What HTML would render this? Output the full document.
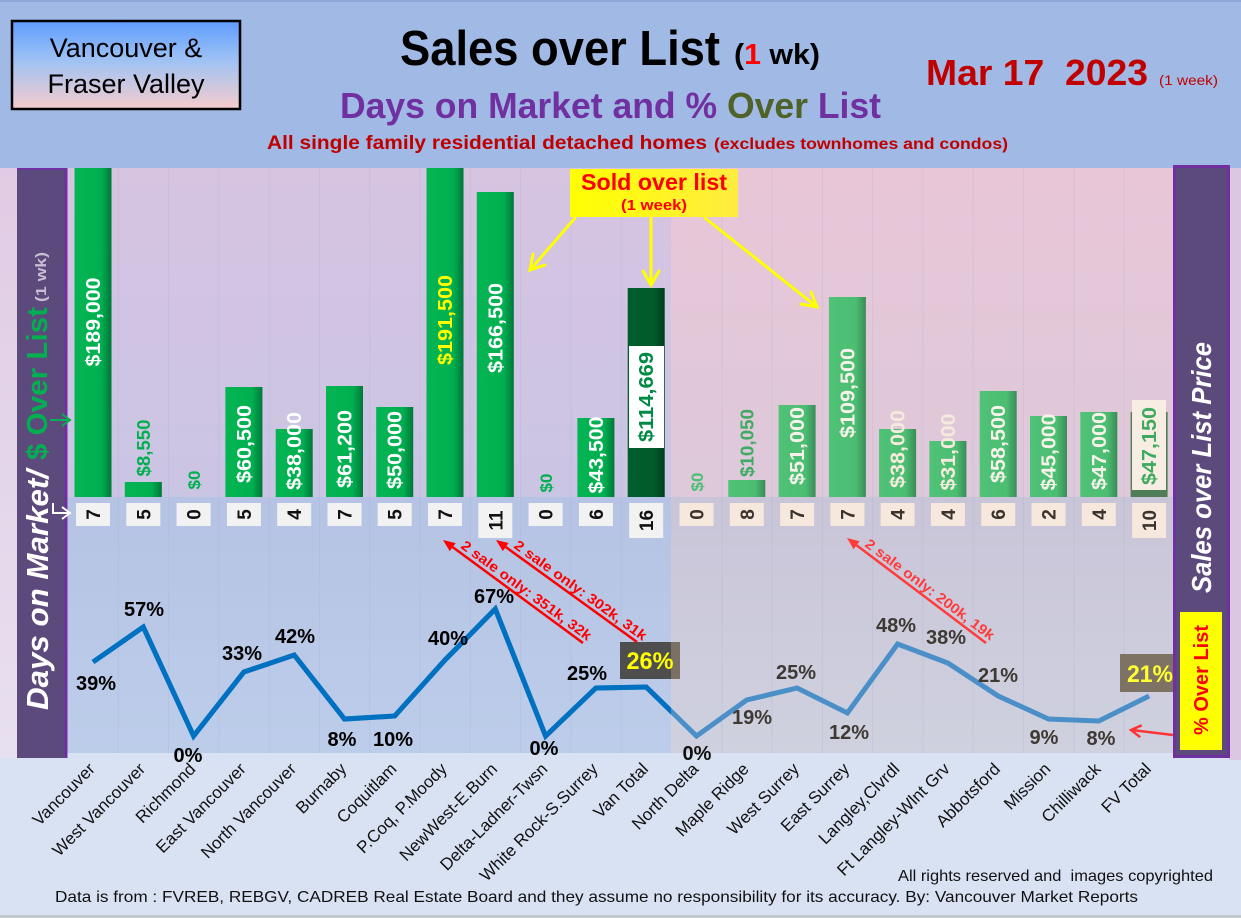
<!DOCTYPE html>
<html><head><meta charset="utf-8">
<style>
html,body{margin:0;padding:0;width:1241px;height:918px;overflow:hidden;background:#d9e2f3}
svg{display:block}
text{font-family:"Liberation Sans",Arial,sans-serif}
</style></head><body>
<svg width="1241" height="918" viewBox="0 0 1241 918" xmlns="http://www.w3.org/2000/svg">
<defs>
 <linearGradient id="boxg" x1="0" y1="0" x2="0" y2="1">
  <stop offset="0" stop-color="#5f9dff"/><stop offset="0.45" stop-color="#9fc2f4"/><stop offset="1" stop-color="#f7cccd"/>
 </linearGradient>
 <linearGradient id="strip" x1="0" y1="0" x2="0" y2="1">
  <stop offset="0" stop-color="#e1cbe4"/><stop offset="1" stop-color="#e7e0f0"/>
 </linearGradient>
 <linearGradient id="vtop" x1="0" y1="0" x2="0" y2="1">
  <stop offset="0" stop-color="#d6c4e1"/><stop offset="1" stop-color="#cac5e3"/>
 </linearGradient>
 <linearGradient id="ftop" x1="0" y1="0" x2="0" y2="1">
  <stop offset="0" stop-color="#e8c6d7"/><stop offset="1" stop-color="#ddc9da"/>
 </linearGradient>
 <linearGradient id="vbot" x1="0" y1="0" x2="0" y2="1">
  <stop offset="0" stop-color="#b6c3e4"/><stop offset="1" stop-color="#bccdea"/>
 </linearGradient>
 <linearGradient id="fbot" x1="0" y1="0" x2="0" y2="1">
  <stop offset="0" stop-color="#c9c5d8"/><stop offset="1" stop-color="#cfd1df"/>
 </linearGradient>
 <linearGradient id="gbar" x1="0" y1="0" x2="1" y2="0">
  <stop offset="0" stop-color="#05b452"/><stop offset="0.72" stop-color="#00b050"/><stop offset="1" stop-color="#00773a"/>
 </linearGradient>
 <linearGradient id="fbar" x1="0" y1="0" x2="1" y2="0">
  <stop offset="0" stop-color="#50c277"/><stop offset="0.72" stop-color="#4cbe72"/><stop offset="1" stop-color="#3a8c58"/>
 </linearGradient>
 <linearGradient id="dbar" x1="0" y1="0" x2="1" y2="0">
  <stop offset="0" stop-color="#005e2c"/><stop offset="0.72" stop-color="#005a2a"/><stop offset="1" stop-color="#003d1c"/>
 </linearGradient>
 <linearGradient id="yel" x1="0" y1="0" x2="1" y2="0">
  <stop offset="0" stop-color="#ffff00"/><stop offset="1" stop-color="#ffec40"/>
 </linearGradient>
 <clipPath id="vclip"><rect x="0" y="0" width="671" height="918"/></clipPath>
</defs>

<rect x="0" y="0" width="1241" height="918" fill="#d9e2f3"/>
<rect x="0" y="0" width="1241" height="168" fill="#a1b9e5"/>
<rect x="0" y="0" width="1241" height="2" fill="#8ea6d6"/>

<rect x="0" y="168" width="68" height="590" fill="url(#strip)"/>
<rect x="1229" y="168" width="12" height="592" fill="#dcc7e3"/>
<rect x="67" y="168" width="604" height="329" fill="url(#vtop)"/>
<rect x="671" y="168" width="503" height="329" fill="url(#ftop)"/>
<rect x="67" y="497" width="604" height="256" fill="url(#vbot)"/>
<rect x="671" y="497" width="503" height="256" fill="url(#fbot)"/>

<g stroke="#9aa6d0" stroke-opacity="0.2" stroke-width="1">
 <line x1="118.3" y1="168" x2="118.3" y2="753"/><line x1="168.6" y1="168" x2="168.6" y2="753"/>
 <line x1="218.9" y1="168" x2="218.9" y2="753"/><line x1="269.2" y1="168" x2="269.2" y2="753"/>
 <line x1="319.5" y1="168" x2="319.5" y2="753"/><line x1="369.7" y1="168" x2="369.7" y2="753"/>
 <line x1="420" y1="168" x2="420" y2="753"/><line x1="470.3" y1="168" x2="470.3" y2="753"/>
 <line x1="520.6" y1="168" x2="520.6" y2="753"/><line x1="570.9" y1="168" x2="570.9" y2="753"/>
 <line x1="621.2" y1="168" x2="621.2" y2="753"/><line x1="721.8" y1="168" x2="721.8" y2="753"/>
 <line x1="772.1" y1="168" x2="772.1" y2="753"/><line x1="822.4" y1="168" x2="822.4" y2="753"/>
 <line x1="872.6" y1="168" x2="872.6" y2="753"/><line x1="922.9" y1="168" x2="922.9" y2="753"/>
 <line x1="973.2" y1="168" x2="973.2" y2="753"/><line x1="1023.5" y1="168" x2="1023.5" y2="753"/>
 <line x1="1073.8" y1="168" x2="1073.8" y2="753"/><line x1="1124.1" y1="168" x2="1124.1" y2="753"/>
</g>

<rect x="12" y="21" width="228" height="88" fill="url(#boxg)" stroke="#000" stroke-width="2.5"/>
<text x="126" y="57" text-anchor="middle" font-size="27" fill="#000">Vancouver &amp;</text>
<text x="126" y="93" text-anchor="middle" font-size="27" fill="#000">Fraser Valley</text>

<text x="400" y="65" font-size="49" font-weight="bold" fill="#000" textLength="320" lengthAdjust="spacingAndGlyphs">Sales over List</text>
<text x="734" y="64" font-size="29" font-weight="bold" fill="#000" textLength="86" lengthAdjust="spacingAndGlyphs">(<tspan fill="#ff0000">1</tspan> wk)</text>
<text x="926" y="85" font-size="36" font-weight="bold" fill="#c00000" textLength="222" lengthAdjust="spacingAndGlyphs">Mar 17&#160; 2023</text>
<text x="1159" y="85" font-size="14" fill="#c00000" textLength="59" lengthAdjust="spacingAndGlyphs">(1 week)</text>
<text x="340" y="118" font-size="36" font-weight="bold" fill="#7030a0" textLength="541" lengthAdjust="spacingAndGlyphs">Days on Market and % <tspan fill="#4f6228">Over</tspan> List</text>
<text x="267" y="149" font-size="19" font-weight="bold" fill="#c00000" textLength="440" lengthAdjust="spacingAndGlyphs">All single family residential detached homes</text>
<text x="714" y="149" font-size="16" font-weight="bold" fill="#c00000" textLength="294" lengthAdjust="spacingAndGlyphs">(excludes townhomes and condos)</text>

<rect x="17" y="168" width="50" height="590" fill="#5d4a7d"/>
<rect x="64.5" y="168" width="3" height="590" fill="#7030a0"/>
<rect x="17" y="168" width="50" height="2" fill="#7030a0"/>
<text transform="translate(48,710) rotate(-90)" font-size="31" font-weight="bold" font-style="italic" fill="#ffffff" textLength="240" lengthAdjust="spacingAndGlyphs">Days on Market/</text>
<text transform="translate(47,460) rotate(-90)" font-size="29" font-weight="bold" fill="#00b050" textLength="153" lengthAdjust="spacingAndGlyphs">$ Over List</text>
<text transform="translate(46,302) rotate(-90)" font-size="15" font-weight="bold" fill="#c6bed3" textLength="50" lengthAdjust="spacingAndGlyphs">(1 wk)</text>
<g stroke="#00b050" stroke-width="2" fill="none"><line x1="50" y1="420" x2="70" y2="420"/><polyline points="62,414 70,420 62,426"/></g>
<g stroke="#ffffff" stroke-width="2" fill="none"><polyline points="53,503 53,513 70,513"/><polyline points="62,507 70,513 62,519"/></g>

<rect x="1174.5" y="166.5" width="54" height="590" fill="#5d4a7d" stroke="#7030a0" stroke-width="3"/>
<text transform="translate(1211,593) rotate(-90)" font-size="28" font-weight="bold" font-style="italic" fill="#ffffff" textLength="251" lengthAdjust="spacingAndGlyphs">Sales over List Price</text>
<rect x="1180" y="612" width="42" height="138" fill="#ffff00"/>
<text transform="translate(1208,735) rotate(-90)" font-size="20" font-weight="bold" fill="#ff0000" textLength="110" lengthAdjust="spacingAndGlyphs">% Over List</text>

<g>
 <rect x="74.5" y="168" width="37" height="329" fill="url(#gbar)"/>
 <rect x="124.8" y="482" width="37" height="15" fill="url(#gbar)"/>
 <rect x="225.4" y="387" width="37" height="110" fill="url(#gbar)"/>
 <rect x="275.7" y="429" width="37" height="68" fill="url(#gbar)"/>
 <rect x="326" y="386" width="37" height="111" fill="url(#gbar)"/>
 <rect x="376.2" y="407" width="37" height="90" fill="url(#gbar)"/>
 <rect x="426.5" y="168" width="37" height="329" fill="url(#gbar)"/>
 <rect x="476.8" y="192" width="37" height="305" fill="url(#gbar)"/>
 <rect x="577.4" y="418" width="37" height="79" fill="url(#gbar)"/>
 <rect x="627.7" y="288" width="37" height="209" fill="url(#dbar)"/>
 <rect x="728.3" y="480" width="37" height="17" fill="url(#fbar)"/>
 <rect x="778.6" y="405" width="37" height="92" fill="url(#fbar)"/>
 <rect x="828.9" y="297" width="37" height="200" fill="url(#fbar)"/>
 <rect x="879.1" y="429" width="37" height="68" fill="url(#fbar)"/>
 <rect x="929.4" y="441" width="37" height="56" fill="url(#fbar)"/>
 <rect x="979.7" y="391" width="37" height="106" fill="url(#fbar)"/>
 <rect x="1030" y="416" width="37" height="81" fill="url(#fbar)"/>
 <rect x="1080.3" y="412" width="37" height="85" fill="url(#fbar)"/>
 <rect x="1130.6" y="412" width="37" height="85" fill="#4f7d58"/>
 <rect x="629" y="346" width="35" height="102" fill="#ffffff"/>
 <rect x="1132" y="400" width="34" height="90" fill="#f8ede2"/>
</g>

<g font-weight="bold" text-anchor="middle" font-size="20">
 <text transform="translate(100,322) rotate(-90)" fill="#ffffff" textLength="89" lengthAdjust="spacingAndGlyphs">$189,000</text>
 <text transform="translate(149.8,448) rotate(-90)" fill="#00b050" font-size="18" textLength="57" lengthAdjust="spacingAndGlyphs">$8,550</text>
 <text transform="translate(200,480) rotate(-90)" fill="#00b050" font-size="17">$0</text>
 <text transform="translate(250.9,444) rotate(-90)" fill="#ffffff" textLength="78" lengthAdjust="spacingAndGlyphs">$60,500</text>
 <text transform="translate(301.2,451) rotate(-90)" fill="#ffffff" textLength="78" lengthAdjust="spacingAndGlyphs">$38,000</text>
 <text transform="translate(351.5,449) rotate(-90)" fill="#ffffff" textLength="78" lengthAdjust="spacingAndGlyphs">$61,200</text>
 <text transform="translate(401.7,450) rotate(-90)" fill="#ffffff" textLength="78" lengthAdjust="spacingAndGlyphs">$50,000</text>
 <text transform="translate(452,320) rotate(-90)" fill="#ffff00" textLength="90" lengthAdjust="spacingAndGlyphs">$191,500</text>
 <text transform="translate(502.3,328) rotate(-90)" fill="#ffffff" textLength="90" lengthAdjust="spacingAndGlyphs">$166,500</text>
 <text transform="translate(552,483) rotate(-90)" fill="#00b050" font-size="17">$0</text>
 <text transform="translate(602.9,455) rotate(-90)" fill="#ffffff" textLength="77" lengthAdjust="spacingAndGlyphs">$43,500</text>
 <text transform="translate(653.2,397) rotate(-90)" fill="#008a45" textLength="90" lengthAdjust="spacingAndGlyphs">$114,669</text>
 <text transform="translate(703,482) rotate(-90)" fill="#4cbf72" font-size="17">$0</text>
 <text transform="translate(753.3,443) rotate(-90)" fill="#3faa62" font-size="18" textLength="68" lengthAdjust="spacingAndGlyphs">$10,050</text>
 <text transform="translate(804.1,446) rotate(-90)" fill="#f6f2ea" textLength="78" lengthAdjust="spacingAndGlyphs">$51,000</text>
 <text transform="translate(854.4,393) rotate(-90)" fill="#f6f2ea" textLength="90" lengthAdjust="spacingAndGlyphs">$109,500</text>
 <text transform="translate(904.6,449) rotate(-90)" fill="#f6e9dd" textLength="78" lengthAdjust="spacingAndGlyphs">$38,000</text>
 <text transform="translate(954.9,452) rotate(-90)" fill="#f6e9dd" textLength="77" lengthAdjust="spacingAndGlyphs">$31,000</text>
 <text transform="translate(1005.2,444) rotate(-90)" fill="#f6f2ea" textLength="78" lengthAdjust="spacingAndGlyphs">$58,500</text>
 <text transform="translate(1055.5,452) rotate(-90)" fill="#f6f2ea" textLength="77" lengthAdjust="spacingAndGlyphs">$45,000</text>
 <text transform="translate(1105.8,451) rotate(-90)" fill="#f6f2ea" textLength="78" lengthAdjust="spacingAndGlyphs">$47,000</text>
 <text transform="translate(1156.1,446) rotate(-90)" fill="#3daa5e" textLength="78" lengthAdjust="spacingAndGlyphs">$47,150</text>
</g>

<g>
 <rect x="76" y="503" width="34" height="23" fill="#f2f2f2"/>
 <rect x="126.3" y="503" width="34" height="23" fill="#f2f2f2"/>
 <rect x="176.6" y="503" width="34" height="23" fill="#f2f2f2"/>
 <rect x="226.9" y="503" width="34" height="23" fill="#f2f2f2"/>
 <rect x="277.2" y="503" width="34" height="23" fill="#f2f2f2"/>
 <rect x="327.5" y="503" width="34" height="23" fill="#f2f2f2"/>
 <rect x="377.7" y="503" width="34" height="23" fill="#f2f2f2"/>
 <rect x="428" y="503" width="34" height="23" fill="#f2f2f2"/>
 <rect x="478.3" y="503" width="34" height="35" fill="#f2f2f2"/>
 <rect x="528.6" y="503" width="34" height="23" fill="#f2f2f2"/>
 <rect x="578.9" y="503" width="34" height="23" fill="#f2f2f2"/>
 <rect x="629.2" y="503" width="34" height="35" fill="#f2f2f2"/>
 <rect x="679.5" y="503" width="34" height="23" fill="#f7e8dd"/>
 <rect x="729.8" y="503" width="34" height="23" fill="#f7e8dd"/>
 <rect x="780.1" y="503" width="34" height="23" fill="#f7e8dd"/>
 <rect x="830.4" y="503" width="34" height="23" fill="#f7e8dd"/>
 <rect x="880.6" y="503" width="34" height="23" fill="#f7e8dd"/>
 <rect x="930.9" y="503" width="34" height="23" fill="#f7e8dd"/>
 <rect x="981.2" y="503" width="34" height="23" fill="#f7e8dd"/>
 <rect x="1031.5" y="503" width="34" height="23" fill="#f7e8dd"/>
 <rect x="1081.8" y="503" width="34" height="23" fill="#f7e8dd"/>
 <rect x="1132.1" y="503" width="34" height="35" fill="#f7e8dd"/>
</g>
<g font-weight="bold" text-anchor="middle" font-size="19" fill="#111">
 <text transform="translate(100,514.5) rotate(-90)">7</text>
 <text transform="translate(150.3,514.5) rotate(-90)">5</text>
 <text transform="translate(200.6,514.5) rotate(-90)">0</text>
 <text transform="translate(250.9,514.5) rotate(-90)">5</text>
 <text transform="translate(301.2,514.5) rotate(-90)">4</text>
 <text transform="translate(351.5,514.5) rotate(-90)">7</text>
 <text transform="translate(401.7,514.5) rotate(-90)">5</text>
 <text transform="translate(452,514.5) rotate(-90)">7</text>
 <text transform="translate(502.3,520.5) rotate(-90)">11</text>
 <text transform="translate(552.6,514.5) rotate(-90)">0</text>
 <text transform="translate(602.9,514.5) rotate(-90)">6</text>
 <text transform="translate(653.2,520.5) rotate(-90)">16</text>
 <text transform="translate(703.5,514.5) rotate(-90)" fill="#3a332d">0</text>
 <text transform="translate(753.8,514.5) rotate(-90)" fill="#3a332d">8</text>
 <text transform="translate(804.1,514.5) rotate(-90)" fill="#3a332d">7</text>
 <text transform="translate(854.4,514.5) rotate(-90)" fill="#3a332d">7</text>
 <text transform="translate(904.6,514.5) rotate(-90)" fill="#3a332d">4</text>
 <text transform="translate(954.9,514.5) rotate(-90)" fill="#3a332d">4</text>
 <text transform="translate(1005.2,514.5) rotate(-90)" fill="#3a332d">6</text>
 <text transform="translate(1055.5,514.5) rotate(-90)" fill="#3a332d">2</text>
 <text transform="translate(1105.8,514.5) rotate(-90)" fill="#3a332d">4</text>
 <text transform="translate(1156.1,520.5) rotate(-90)" fill="#3a332d">10</text>
</g>

<rect x="570" y="169" width="168" height="48" fill="url(#yel)"/>
<text x="654" y="190" text-anchor="middle" font-size="23" font-weight="bold" fill="#ff0000" textLength="146" lengthAdjust="spacingAndGlyphs">Sold over list</text>
<text x="654" y="210" text-anchor="middle" font-size="15" font-weight="bold" fill="#ff0000" textLength="66" lengthAdjust="spacingAndGlyphs">(1 week)</text>
<g stroke="#ffff00" stroke-width="3" fill="none" stroke-linecap="round">
 <line x1="575" y1="218" x2="530" y2="270"/><polyline points="545,265 530,270 533,254"/>
 <line x1="651" y1="218" x2="651" y2="285"/><polyline points="643,271 651,285 659,271"/>
 <line x1="705" y1="218" x2="817" y2="307"/><polyline points="801,304 817,307 811,292"/>
</g>

<polyline fill="none" stroke="#4a8fc8" stroke-width="5" stroke-linejoin="miter"
 points="93,662 143.3,627 193.6,736 243.9,672 294.2,655 344.5,719 394.7,716 445,660 495.3,609 545.6,736 595.9,688 646.2,687 696.5,736 746.8,700 797.1,688 847.4,713 897.6,644 947.9,663 998.2,696 1048.5,719 1098.8,721 1149.1,696"/>
<polyline clip-path="url(#vclip)" fill="none" stroke="#0070c0" stroke-width="5" stroke-linejoin="miter"
 points="93,662 143.3,627 193.6,736 243.9,672 294.2,655 344.5,719 394.7,716 445,660 495.3,609 545.6,736 595.9,688 646.2,687 696.5,736"/>

<g font-size="20" font-weight="bold" text-anchor="middle" fill="#000">
 <text x="96" y="690">39%</text>
 <text x="144" y="616">57%</text>
 <text x="188" y="762">0%</text>
 <text x="242" y="660">33%</text>
 <text x="295" y="643">42%</text>
 <text x="342" y="746">8%</text>
 <text x="393" y="746">10%</text>
 <text x="448" y="645">40%</text>
 <text x="494" y="603">67%</text>
 <text x="544" y="755">0%</text>
 <text x="587" y="680">25%</text>
</g>
<g font-size="20" font-weight="bold" text-anchor="middle" fill="#3f3934">
 <text x="697" y="760" fill="#111">0%</text>
 <text x="752" y="724">19%</text>
 <text x="796" y="679">25%</text>
 <text x="849" y="739">12%</text>
 <text x="896" y="632">48%</text>
 <text x="946" y="644">38%</text>
 <text x="998" y="682">21%</text>
 <text x="1044" y="744">9%</text>
 <text x="1101" y="745">8%</text>
</g>
<rect x="620" y="642" width="51" height="37" fill="#4e4e4e"/>
<rect x="671" y="642" width="9" height="37" fill="#7a7064"/>
<text x="650" y="669" text-anchor="middle" font-size="24" font-weight="bold" fill="#ffff00" textLength="47" lengthAdjust="spacingAndGlyphs">26%</text>
<rect x="1120" y="654" width="53" height="38" fill="#7d7263"/>
<text x="1127" y="682" font-size="24" font-weight="bold" fill="#ffff33" textLength="46" lengthAdjust="spacingAndGlyphs">21%</text>

<g stroke="#ff0000" stroke-width="2.5">
 <line x1="452.7" y1="547.1" x2="583" y2="643"/>
 <line x1="505.7" y1="547" x2="637" y2="642"/>
</g>
<polygon points="443,540 455.7,543.1 449.7,551.1" fill="#ff0000"/>
<polygon points="496,540 508.6,543 502.8,551.1" fill="#ff0000"/>
<line x1="856.6" y1="545.2" x2="986" y2="643" stroke="#ff3b3b" stroke-width="2.5"/>
<polygon points="847,538 859.6,541.2 853.6,549.2" fill="#ff3b3b"/>
<g font-size="14" font-weight="bold">
 <text transform="translate(460,547.5) rotate(36.35)" fill="#ff0000" textLength="158" lengthAdjust="spacingAndGlyphs">2 sale only: 351k, 32k</text>
 <text transform="translate(513,547.3) rotate(35.9)" fill="#ff0000" textLength="160" lengthAdjust="spacingAndGlyphs">2 sale only: 302k, 31k</text>
 <text transform="translate(864,545.7) rotate(37.05)" fill="#ff3b3b" textLength="158" lengthAdjust="spacingAndGlyphs">2 sale only: 200k, 19k</text>
</g>
<g stroke="#ff3333" stroke-width="2.5" fill="none">
 <line x1="1173" y1="735" x2="1132" y2="730"/>
 <polyline points="1141.7,725.3 1131,730 1140.2,737.2"/>
</g>

<g font-size="17" text-anchor="end" fill="#111">
 <text transform="translate(96,770) rotate(-45)">Vancouver</text>
 <text transform="translate(146.3,770) rotate(-45)">West Vancouver</text>
 <text transform="translate(196.6,770) rotate(-45)">Richmond</text>
 <text transform="translate(246.9,770) rotate(-45)">East Vancouver</text>
 <text transform="translate(297.2,770) rotate(-45)">North Vancouver</text>
 <text transform="translate(347.5,770) rotate(-45)">Burnaby</text>
 <text transform="translate(397.7,770) rotate(-45)">Coquitlam</text>
 <text transform="translate(448,770) rotate(-45)">P.Coq, P.Moody</text>
 <text transform="translate(498.3,770) rotate(-45)">NewWest-E.Burn</text>
 <text transform="translate(548.6,770) rotate(-45)">Delta-Ladner-Twsn</text>
 <text transform="translate(598.9,770) rotate(-45)">White Rock-S.Surrey</text>
 <text transform="translate(649.2,770) rotate(-45)">Van Total</text>
 <text transform="translate(699.5,770) rotate(-45)">North Delta</text>
 <text transform="translate(749.8,770) rotate(-45)">Maple Ridge</text>
 <text transform="translate(800.1,770) rotate(-45)">West Surrey</text>
 <text transform="translate(850.4,770) rotate(-45)">East Surrey</text>
 <text transform="translate(900.6,770) rotate(-45)">Langley,Clvrdl</text>
 <text transform="translate(950.9,770) rotate(-45)">Ft Langley-Wlnt Grv</text>
 <text transform="translate(1001.2,770) rotate(-45)">Abbotsford</text>
 <text transform="translate(1051.5,770) rotate(-45)">Mission</text>
 <text transform="translate(1101.8,770) rotate(-45)">Chilliwack</text>
 <text transform="translate(1152.1,770) rotate(-45)">FV Total</text>
</g>

<text x="898" y="881" font-size="16" fill="#111" textLength="315" lengthAdjust="spacingAndGlyphs">All rights reserved and&#160; images copyrighted</text>
<text x="55" y="902" font-size="16" fill="#111" textLength="1083" lengthAdjust="spacingAndGlyphs">Data is from : FVREB, REBGV, CADREB Real Estate Board and they assume no responsibility for its accuracy. By: Vancouver Market Reports</text>
<rect x="0" y="915" width="1241" height="3" fill="#c4c8d0"/>
</svg>
</body></html>
